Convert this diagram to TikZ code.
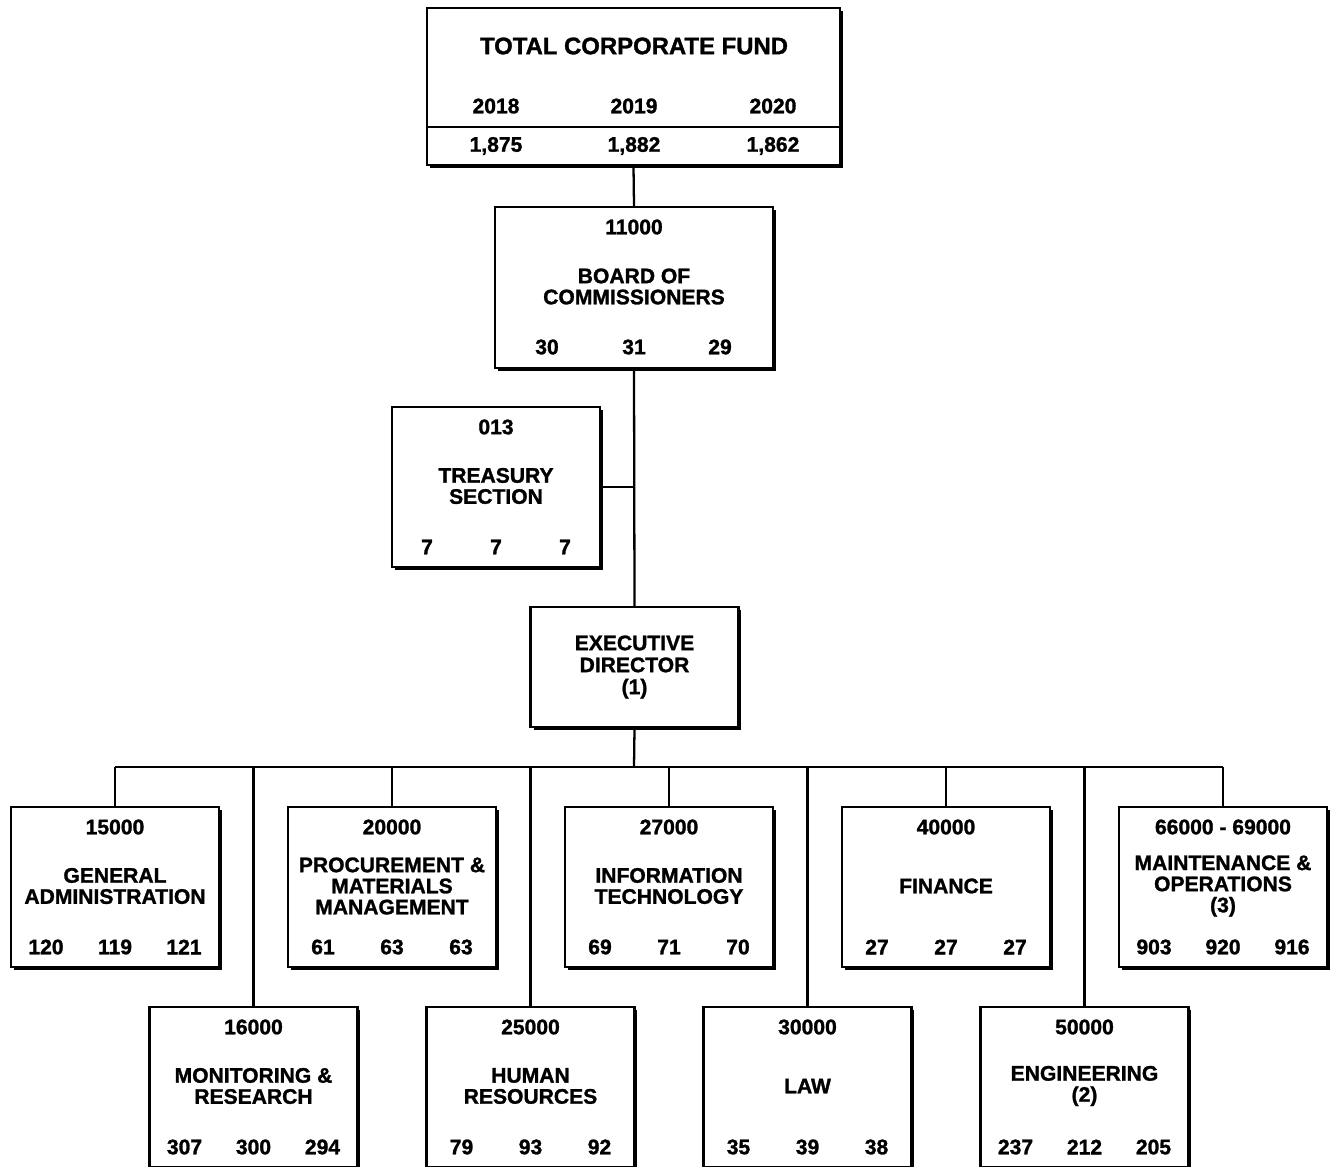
\documentclass[tikz,border=0pt]{standalone}
\usepackage{fontspec}
\setmainfont{Liberation Sans}[BoldFeatures={FakeBold=1.3}]
\usepackage{tikz}
\usetikzlibrary{positioning, shadows, calc}

\tikzset{
  unit/.style={draw, line width=1.3pt, fill=white, inner sep=0pt,
    minimum width=4.16cm, minimum height=3.2cm,
    drop shadow={shadow xshift=0.06cm, shadow yshift=-0.06cm, opacity=1, fill=black}},
  lbl/.style={font=\bfseries\fontsize{12}{12}\selectfont, inner sep=0pt, align=center},
  link/.style={line width=1.3pt},
}

% one department box: name, centre x, top y, code, title, three counts
\newcommand{\orgunit}[8]{%
  \node[unit] (#1) at (#2,#3+80) {};
  \node[lbl] at (#2,#3+20) {#4};
  \node[lbl] at (#2,#3+79) {#5};
  \node[lbl] at (#2-69,#3+140) {#6};
  \node[lbl] at (#2,#3+140) {#7};
  \node[lbl] at (#2+69,#3+140) {#8};
}

\begin{document}
\begin{tikzpicture}[x=0.02cm, y=-0.02cm]
  \useasboundingbox (0,0) rectangle (1331,1166);

  % total fund
  \node[unit, minimum width=8.26cm, minimum height=3.14cm] (tcf) at (633.5,86.5) {};
  \node[lbl, font=\bfseries\fontsize{13.6}{15}\selectfont] at (634,46) {TOTAL CORPORATE FUND};
  \node[lbl] at (496,106) {2018};
  \node[lbl] at (634,106) {2019};
  \node[lbl] at (773,106) {2020};
  \draw[link] (tcf.west |- 0,127) -- (tcf.east |- 0,127);
  \node[lbl] at (496,146) {1,875};
  \node[lbl] at (634,146) {1,882};
  \node[lbl] at (773,146) {1,862};

  % board
  \node[unit, minimum width=5.56cm, minimum height=3.22cm] (bd) at (634,287.5) {};
  \node[lbl] at (634,227) {11000};
  \node[lbl] at (634,286.5) {BOARD OF\\COMMISSIONERS};
  \node[lbl] at (547,347) {30};
  \node[lbl] at (634,347) {31};
  \node[lbl] at (720,347) {29};

  \orgunit{ts}{496}{407}{013}{TREASURY\\SECTION}{7}{7}{7}

  \node[unit, lbl, minimum height=2.4cm] (ed) at (634.5,667)
    {EXECUTIVE\\[0.5pt]DIRECTOR\\[0.5pt](1)};

  % departments
  \orgunit{ga}{115}{807}{15000}{GENERAL\\ADMINISTRATION}{120}{119}{121}
  \orgunit{pm}{392}{807}{20000}{PROCUREMENT \&\\MATERIALS\\MANAGEMENT}{61}{63}{63}
  \orgunit{it}{669}{807}{27000}{INFORMATION\\TECHNOLOGY}{69}{71}{70}
  \orgunit{fi}{946}{807}{40000}{FINANCE}{27}{27}{27}
  \orgunit{mo}{1223}{807}{66000 - 69000}{MAINTENANCE \&\\OPERATIONS\\(3)}{903}{920}{916}
  \orgunit{mr}{253.5}{1007}{16000}{MONITORING \&\\RESEARCH}{307}{300}{294}
  \orgunit{hr}{530.5}{1007}{25000}{HUMAN\\RESOURCES}{79}{93}{92}
  \orgunit{lw}{807.5}{1007}{30000}{LAW}{35}{39}{38}
  \orgunit{en}{1084.5}{1007}{50000}{ENGINEERING\\(2)}{237}{212}{205}

  % connectors
  \coordinate (bus) at (634,767);
  \draw[link] (tcf.south) -- (bd.north);
  \draw[link] (bd.south) -- (ed.north);
  \draw[link] (ts.east) -- (ts.east -| bd.south);
  \draw[link] (ed.south) -- (bus);
  \draw[link] (ga.north |- bus) -- (mo.north |- bus);
  \foreach \n in {ga, pm, it, fi, mo, mr, hr, lw, en}
    \draw[link] (\n.north) -- (\n.north |- bus);
\end{tikzpicture}
\end{document}
